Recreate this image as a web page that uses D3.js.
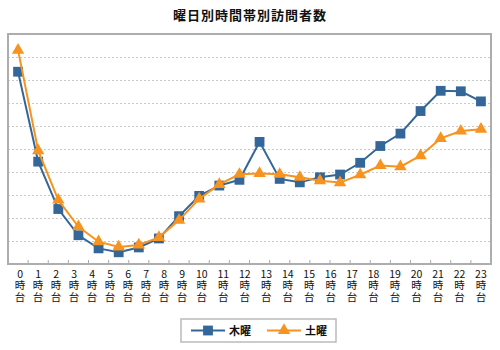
<html>

<head>
  <script src="https://d3js.org/d3.v7.min.js"></script>
  <style>
    body {
      margin: 0;
      background: #fff;
    }

    svg text {
      font-family: "Noto Sans CJK JP", "Noto Sans", sans-serif;
      fill: #111;
    }

    .gridlines line {
      stroke: #c8c8c8;
      stroke-dasharray: 2, 2;
    }

    .gridlines .domain {
      stroke: none;
    }
  </style>
</head>

<body>
  <svg id="chart" width="500" height="350"></svg>
  <script>
    // 時間帯 0..23
    const hours = d3.range(0, 24);
    const seriesNames = ["木曜", "土曜"];
    const seriesColors = ["#336699", "#f7931e"];
    const thursday = [8.36, 4.45, 2.39, 1.25, 0.68, 0.51, 0.72, 1.11, 2.08, 2.96, 3.41, 3.66,
      5.31, 3.70, 3.55, 3.77, 3.89, 4.40, 5.13, 5.67, 6.65, 7.53, 7.51, 7.07];
    const saturday = [9.30, 4.93, 2.78, 1.62, 0.97, 0.74, 0.83, 1.16, 1.91, 2.83, 3.46, 3.90,
      3.94, 3.90, 3.77, 3.62, 3.54, 3.88, 4.28, 4.23, 4.71, 5.46, 5.78, 5.86];
    const yMax = 10;

    const svg = d3.select("#chart");
    const width = +svg.attr("width");
    const margin = { top: 34, right: 9, bottom: 86, left: 8 };
    const chartWidth = width - margin.left - margin.right;
    const chartHeight = 350 - margin.top - margin.bottom;
    const labelSize = 10.5;

    svg.append("text")
      .attr("x", width / 2)
      .attr("y", 20)
      .attr("text-anchor", "middle")
      .style("font-size", "13px")
      .style("font-weight", "bold")
      .style("letter-spacing", "1px")
      .text("曜日別時間帯別訪問者数");

    const xScale = d3.scaleBand().domain(hours).range([0, chartWidth]);
    const yScale = d3.scaleLinear().domain([0, yMax]).range([chartHeight, 0]);

    const annotations = svg.append("g")
      .attr("transform", `translate(${margin.left},${margin.top})`);
    const chartArea = svg.append("g")
      .attr("transform", `translate(${margin.left},${margin.top})`);

    // dotted gridlines
    const yGridlines = d3.axisLeft(yScale)
      .tickValues(d3.range(1, yMax))
      .tickSize(-chartWidth)
      .tickFormat("");
    annotations.append("g")
      .attr("class", "y gridlines")
      .call(yGridlines);

    // small ticks between categories, pointing up from the bottom edge
    annotations.append("g")
      .selectAll("line")
      .data(hours.slice(1))
      .join("line")
      .attr("x1", d => xScale(d))
      .attr("x2", d => xScale(d))
      .attr("y1", chartHeight)
      .attr("y2", chartHeight - 4)
      .style("stroke", "#aaa");

    annotations.append("rect")
      .attr("width", chartWidth)
      .attr("height", chartHeight)
      .style("fill", "none")
      .style("stroke", "#adadad")
      .style("stroke-width", 2);

    // x labels: stacked "N / 時 / 台", packed with equal gaps like the original
    const labels = annotations.append("g")
      .selectAll("text")
      .data(hours)
      .join("text")
      .attr("text-anchor", "middle")
      .style("font-size", labelSize + "px");
    labels.selectAll("tspan")
      .data(d => [String(d), "時", "台"])
      .join("tspan")
      .attr("x", 0)
      .attr("y", (d, i) => chartHeight + 14 + i * 11.3)
      .text(d => d);

    // column width = width of the number, but never narrower than a narrow kanji cell
    const widths = labels.nodes().map(n =>
      Math.max(n.firstChild.getComputedTextLength(), labelSize * 0.78));
    const first = xScale(hours[0]) + xScale.bandwidth() / 2 + 2;
    const last = xScale(hours[hours.length - 1]) + xScale.bandwidth() / 2;
    const gap = (last - first - d3.sum(widths) + widths[0] / 2 + widths[widths.length - 1] / 2) / (hours.length - 1);
    let cursor = first - widths[0] / 2;
    const labelX = widths.map(w => {
      const cx = cursor + w / 2;
      cursor += w + gap;
      return cx;
    });
    labels.attr("transform", (d, i) => `translate(${labelX[i]},0)`);

    const series = [
      { name: seriesNames[0], values: thursday, color: seriesColors[0], symbol: d3.symbolSquare, size: 96 },
      { name: seriesNames[1], values: saturday, color: seriesColors[1], symbol: d3.symbolTriangle, size: 66 }
    ];

    const line = d3.line()
      .x((v, i) => xScale(hours[i]) + xScale.bandwidth() / 2)
      .y(v => yScale(v));

    const things = chartArea.selectAll("g.thing")
      .data(series)
      .join("g")
      .attr("class", "thing");
    things.append("path")
      .attr("d", d => line(d.values))
      .style("stroke", d => d.color)
      .style("stroke-width", 2)
      .style("fill", "none");
    things.selectAll("path.marker")
      .data(d => d.values.map((v, i) => ({ v, i, s: d })))
      .join("path")
      .attr("class", "marker")
      .attr("d", p => d3.symbol().type(p.s.symbol).size(p.s.size)())
      .attr("transform", p => `translate(${xScale(hours[p.i]) + xScale.bandwidth() / 2},${yScale(p.v)})`)
      .style("fill", p => p.s.color);

    // legend
    const legend = svg.append("g").attr("transform", "translate(181,319)");
    legend.append("rect")
      .attr("width", 155)
      .attr("height", 23)
      .style("fill", "#fff")
      .style("stroke", "#bbb")
      .style("stroke-width", 1.5);
    const items = legend.selectAll("g.item")
      .data(series)
      .join("g")
      .attr("class", "item")
      .attr("transform", (d, i) => `translate(${10 + i * 76},11.5)`);
    items.append("line")
      .attr("x1", 0)
      .attr("x2", 34)
      .style("stroke", d => d.color)
      .style("stroke-width", 2);
    items.append("path")
      .attr("d", d => d3.symbol().type(d.symbol).size(d.size)())
      .attr("transform", "translate(17,0)")
      .style("fill", d => d.color);
    items.append("text")
      .attr("x", 38)
      .attr("y", 4)
      .style("font-size", "11px")
      .style("font-weight", "bold")
      .text(d => d.name);
  </script>
</body>

</html>
